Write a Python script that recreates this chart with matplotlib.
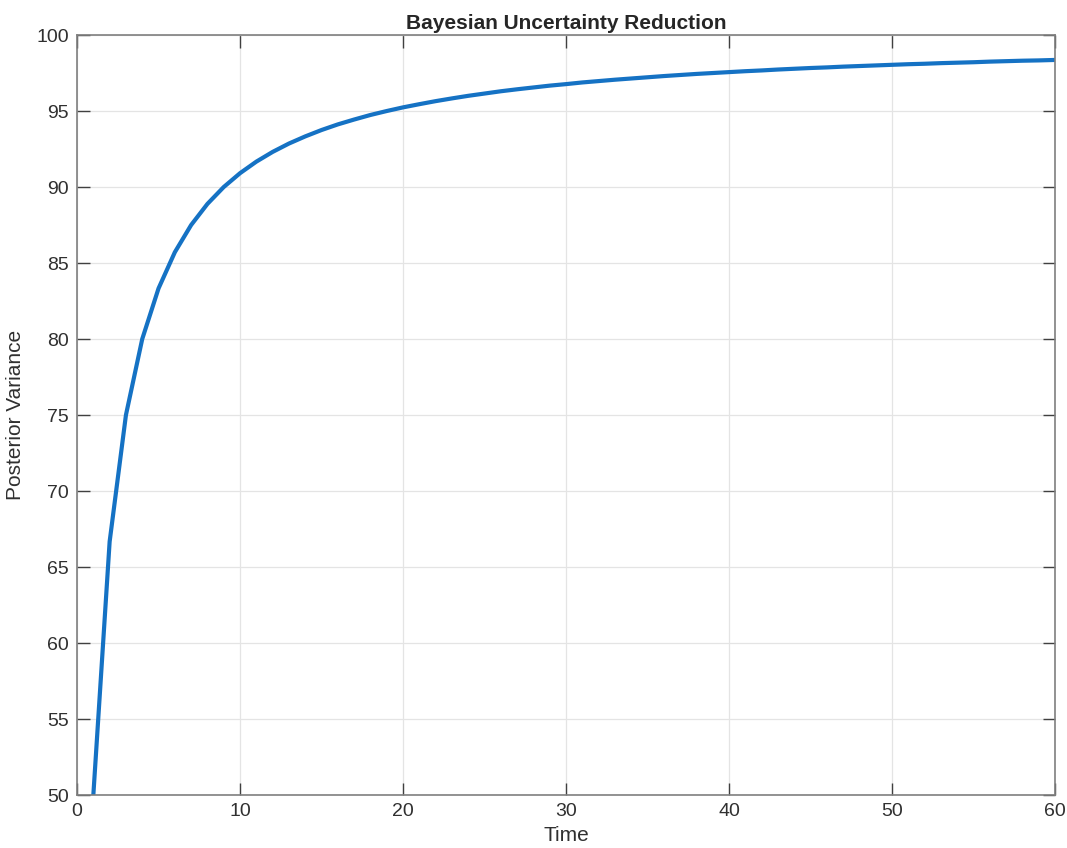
import matplotlib
matplotlib.use("Agg")
import matplotlib.pyplot as plt

plt.rcParams['font.family'] = ['Liberation Sans', 'DejaVu Sans']

time = list(range(1, 61))
variance = [50.0, 66.67, 75.0, 80.0, 83.33, 85.71, 87.5, 88.89, 90.0, 90.91,
            91.67, 92.31, 92.86, 93.33, 93.75, 94.12, 94.44, 94.74, 95.0, 95.24,
            95.45, 95.65, 95.83, 96.0, 96.15, 96.3, 96.43, 96.55, 96.67, 96.77,
            96.88, 96.97, 97.06, 97.14, 97.22, 97.3, 97.37, 97.44, 97.5, 97.56,
            97.62, 97.67, 97.73, 97.78, 97.83, 97.87, 97.92, 97.96, 98.0, 98.04,
            98.08, 98.11, 98.15, 98.18, 98.21, 98.25, 98.28, 98.31, 98.33, 98.36]
xticks = [0, 10, 20, 30, 40, 50, 60]
yticks = [50, 55, 60, 65, 70, 75, 80, 85, 90, 95, 100]

fig = plt.figure(figsize=(10.67, 8.48), dpi=100)
ax = fig.add_axes([0.0722, 0.0625, 0.9166, 0.8962])
ax.plot(time, variance, color='#1572c4', linewidth=3)
ax.set_xlim(0, 60)
ax.set_ylim(50, 100)
ax.set_xticks(xticks)
ax.set_yticks(yticks)
ax.grid(True, color='#e4e4e4', linewidth=0.9)
ax.set_axisbelow(True)
ax.tick_params(direction='in', top=True, right=True, length=9, width=1,
               color='#404040', labelsize=14, labelcolor='#303030', pad=6)
for s in ax.spines.values():
    s.set_color('#7f7f7f')
    s.set_linewidth(1.2)
ax.set_xlabel('Time', fontsize=15, color='#303030', labelpad=4)
ax.set_ylabel('Posterior Variance', fontsize=15, color='#303030', labelpad=8)
ax.set_title('Bayesian Uncertainty Reduction', fontsize=15, fontweight='bold',
             color='#262626', pad=4)
fig.savefig('out.png', dpi=100)
